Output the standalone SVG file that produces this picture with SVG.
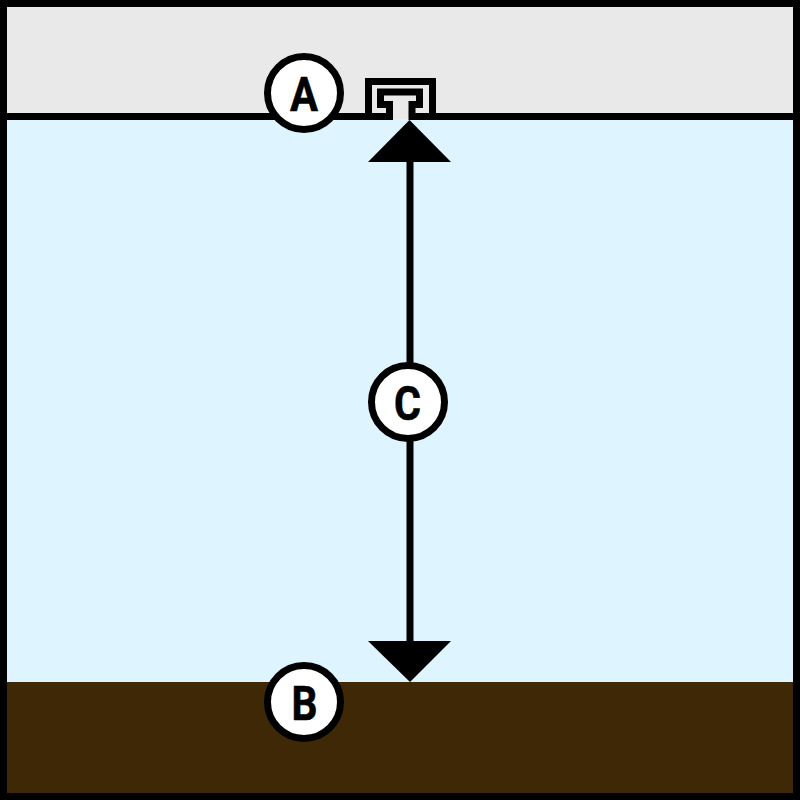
<svg xmlns="http://www.w3.org/2000/svg" width="800" height="800" viewBox="0 0 800 800">
<style>
.ln{fill:none;stroke:#000;stroke-width:7;stroke-linejoin:miter}
.bub{fill:#fff;stroke:#000;stroke-width:7}
.lab{font-family:"Roboto","Liberation Sans",sans-serif;font-weight:700;font-size:49px;text-anchor:middle;fill:#000;stroke:#000;stroke-width:.6}
</style>
<g id="scene">
<rect x="0" y="0" width="800" height="117" fill="#e9e9e9"/>
<rect x="0" y="117" width="800" height="566" fill="#def4ff"/>
<rect x="0" y="682" width="800" height="118" fill="#3f2806"/>
<path class="ln" d="M0 116.500H392.500M409 116.500H800"/>
<rect x="392.500" y="102" width="16.500" height="17" fill="#e9e9e9"/>
<rect x="3.500" y="3.500" width="793" height="793" class="ln"/>
</g>
<g id="rail">
<path class="ln" d="M368.500 120V81.500H432.500V120"/>
<path class="ln" d="M389.500 120V104.500H380.500V92H419.500V104.500H412V120"/>
</g>
<g id="connectors">
<path class="ln" d="M410 160V643"/>
<polygon points="409.500,120 451,162 368,162"/>
<polygon points="410,682 451,641 368,641"/>
</g>
<g id="node-a"><circle class="bub" cx="304" cy="93" r="36.500"/><text class="lab" x="304" y="110.500" textLength="28" lengthAdjust="spacingAndGlyphs">A</text></g>
<g id="node-b"><circle class="bub" cx="304" cy="702" r="36.500"/><text class="lab" x="304.500" y="719.500" textLength="26" lengthAdjust="spacingAndGlyphs">B</text></g>
<g id="node-c"><circle class="bub" cx="408" cy="402" r="36.500"/><text class="lab" x="407.500" y="419.500" textLength="27" lengthAdjust="spacingAndGlyphs">C</text></g>
</svg>
